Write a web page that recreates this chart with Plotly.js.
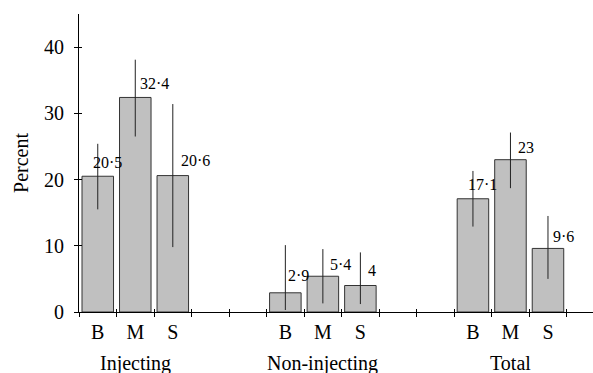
<!DOCTYPE html>
<html>
<head>
<meta charset="utf-8">
<script src="https://cdn.plot.ly/plotly-3.0.1.min.js"></script>
<style>html,body{margin:0;padding:0;background:#fff;}#chart{width:593px;height:373px;}</style>
</head>
<body>
<div id="chart"></div>
<script>
// ---- data ----
var groups = ["Injecting", "Non-injecting", "Total"];
var categories = ["B", "M", "S"];
var injectingValues = [20.5, 32.4, 20.6];
var injectingLower  = [15.5, 26.5, 9.8];
var injectingUpper  = [25.4, 38.1, 31.4];
var nonInjectingValues = [2.9, 5.4, 4];
var nonInjectingLower  = [0.3, 1.3, 1.2];
var nonInjectingUpper  = [10.1, 9.5, 9.0];
var totalValues = [17.1, 23, 9.6];
var totalLower  = [12.9, 18.7, 5.0];
var totalUpper  = [21.3, 27.1, 14.5];
var yTicks = [0, 10, 20, 30, 40];

// ---- styling / layout helpers ----
var FONT = "Liberation Serif";
var groupGap = 5;          // slots per group (3 bars + 2 spacer)
var labelXShift = [[-7, 3, 6], [1, 5, 6], [-7, 6, 3]];
var labelYShift = [[14, 14, 15], [17, 12, 15], [14, 12, 12]];

var allValues = [injectingValues, nonInjectingValues, totalValues];
var allLower = [injectingLower, nonInjectingLower, totalLower];
var allUpper = [injectingUpper, nonInjectingUpper, totalUpper];

var xs = [], ys = [], ePlus = [], eMinus = [], annotations = [];
var catVals = [], catText = [];
groups.forEach(function (g, gi) {
  categories.forEach(function (c, ci) {
    var x = gi * groupGap + ci + 0.5;
    var v = allValues[gi][ci];
    xs.push(x); ys.push(v);
    ePlus.push(allUpper[gi][ci] - v);
    eMinus.push(v - allLower[gi][ci]);
    catVals.push(x); catText.push(c);
    annotations.push({
      x: x, y: v, xref: "x", yref: "y",
      text: String(v).replace(".", "\u00B7"),
      showarrow: false, xanchor: "left", yanchor: "middle",
      xshift: labelXShift[gi][ci], yshift: labelYShift[gi][ci],
      font: {family: FONT, size: 16, color: "#000"}
    });
  });
  annotations.push({
    x: gi * groupGap + 1.5, y: 0, xref: "x", yref: "paper",
    text: g, showarrow: false, xanchor: "center", yanchor: "top",
    yshift: -38,
    font: {family: FONT, size: 20, color: "#000"}
  });
});

var traces = [
  {
    type: "bar", x: xs, y: ys, width: 0.84,
    marker: {color: "#c0c0c0", line: {color: "#333", width: 1}},
    error_y: {type: "data", symmetric: false, array: ePlus, arrayminus: eMinus,
              width: 0, thickness: 1, color: "#222"},
    hoverinfo: "skip", showlegend: false
  },
  {type: "scatter", mode: "markers", x: [null], y: [null], xaxis: "x2", yaxis: "y", showlegend: false, hoverinfo: "skip"},
  {type: "scatter", mode: "markers", x: [null], y: [null], xaxis: "x3", yaxis: "y", showlegend: false, hoverinfo: "skip"},
  {type: "scatter", mode: "markers", x: [null], y: [null], xaxis: "x", yaxis: "y2", showlegend: false, hoverinfo: "skip"}
];

var xRange = [0, 13.7];
var yRange = [0, 45];
var layout = {
  width: 593, height: 373,
  margin: {l: 79, r: 0, t: 14, b: 61},
  paper_bgcolor: "#fff", plot_bgcolor: "#fff",
  font: {family: FONT, color: "#000"},
  showlegend: false,
  bargap: 0,
  xaxis: {
    range: xRange, tick0: 0, dtick: 1, ticks: "outside", ticklen: 4, tickwidth: 1,
    tickcolor: "#000", showticklabels: false, showline: true, linecolor: "#000",
    linewidth: 1, showgrid: false, zeroline: false, fixedrange: true
  },
  xaxis2: {
    overlaying: "x", anchor: "y", range: xRange, tick0: 0, dtick: 1, ticks: "inside",
    ticklen: 3, tickwidth: 1, tickcolor: "#000", showticklabels: false,
    showline: false, showgrid: false, zeroline: false, fixedrange: true
  },
  xaxis3: {
    overlaying: "x", anchor: "y", range: xRange, tickmode: "array", tickvals: catVals,
    ticktext: catText, ticks: "", ticklabelstandoff: 6,
    tickfont: {family: FONT, size: 20, color: "#000"},
    showline: false, showgrid: false, zeroline: false, fixedrange: true
  },
  yaxis: {
    range: yRange, tickmode: "array", tickvals: yTicks, ticks: "outside", ticklen: 4,
    tickwidth: 1, tickcolor: "#000", showline: true, linecolor: "#000", linewidth: 1,
    showgrid: false, zeroline: false, ticklabelstandoff: 6,
    tickfont: {family: FONT, size: 20, color: "#000"},
    title: {text: "Percent", font: {family: FONT, size: 20, color: "#000"}, standoff: 10},
    fixedrange: true
  },
  yaxis2: {
    overlaying: "y", anchor: "x", range: yRange, tickmode: "array", tickvals: yTicks,
    ticks: "inside", ticklen: 3, tickwidth: 1, tickcolor: "#000", showticklabels: false,
    showline: false, showgrid: false, zeroline: false, fixedrange: true
  },
  annotations: annotations
};

Plotly.newPlot("chart", traces, layout, {displayModeBar: false, staticPlot: true});
</script>
</body>
</html>
